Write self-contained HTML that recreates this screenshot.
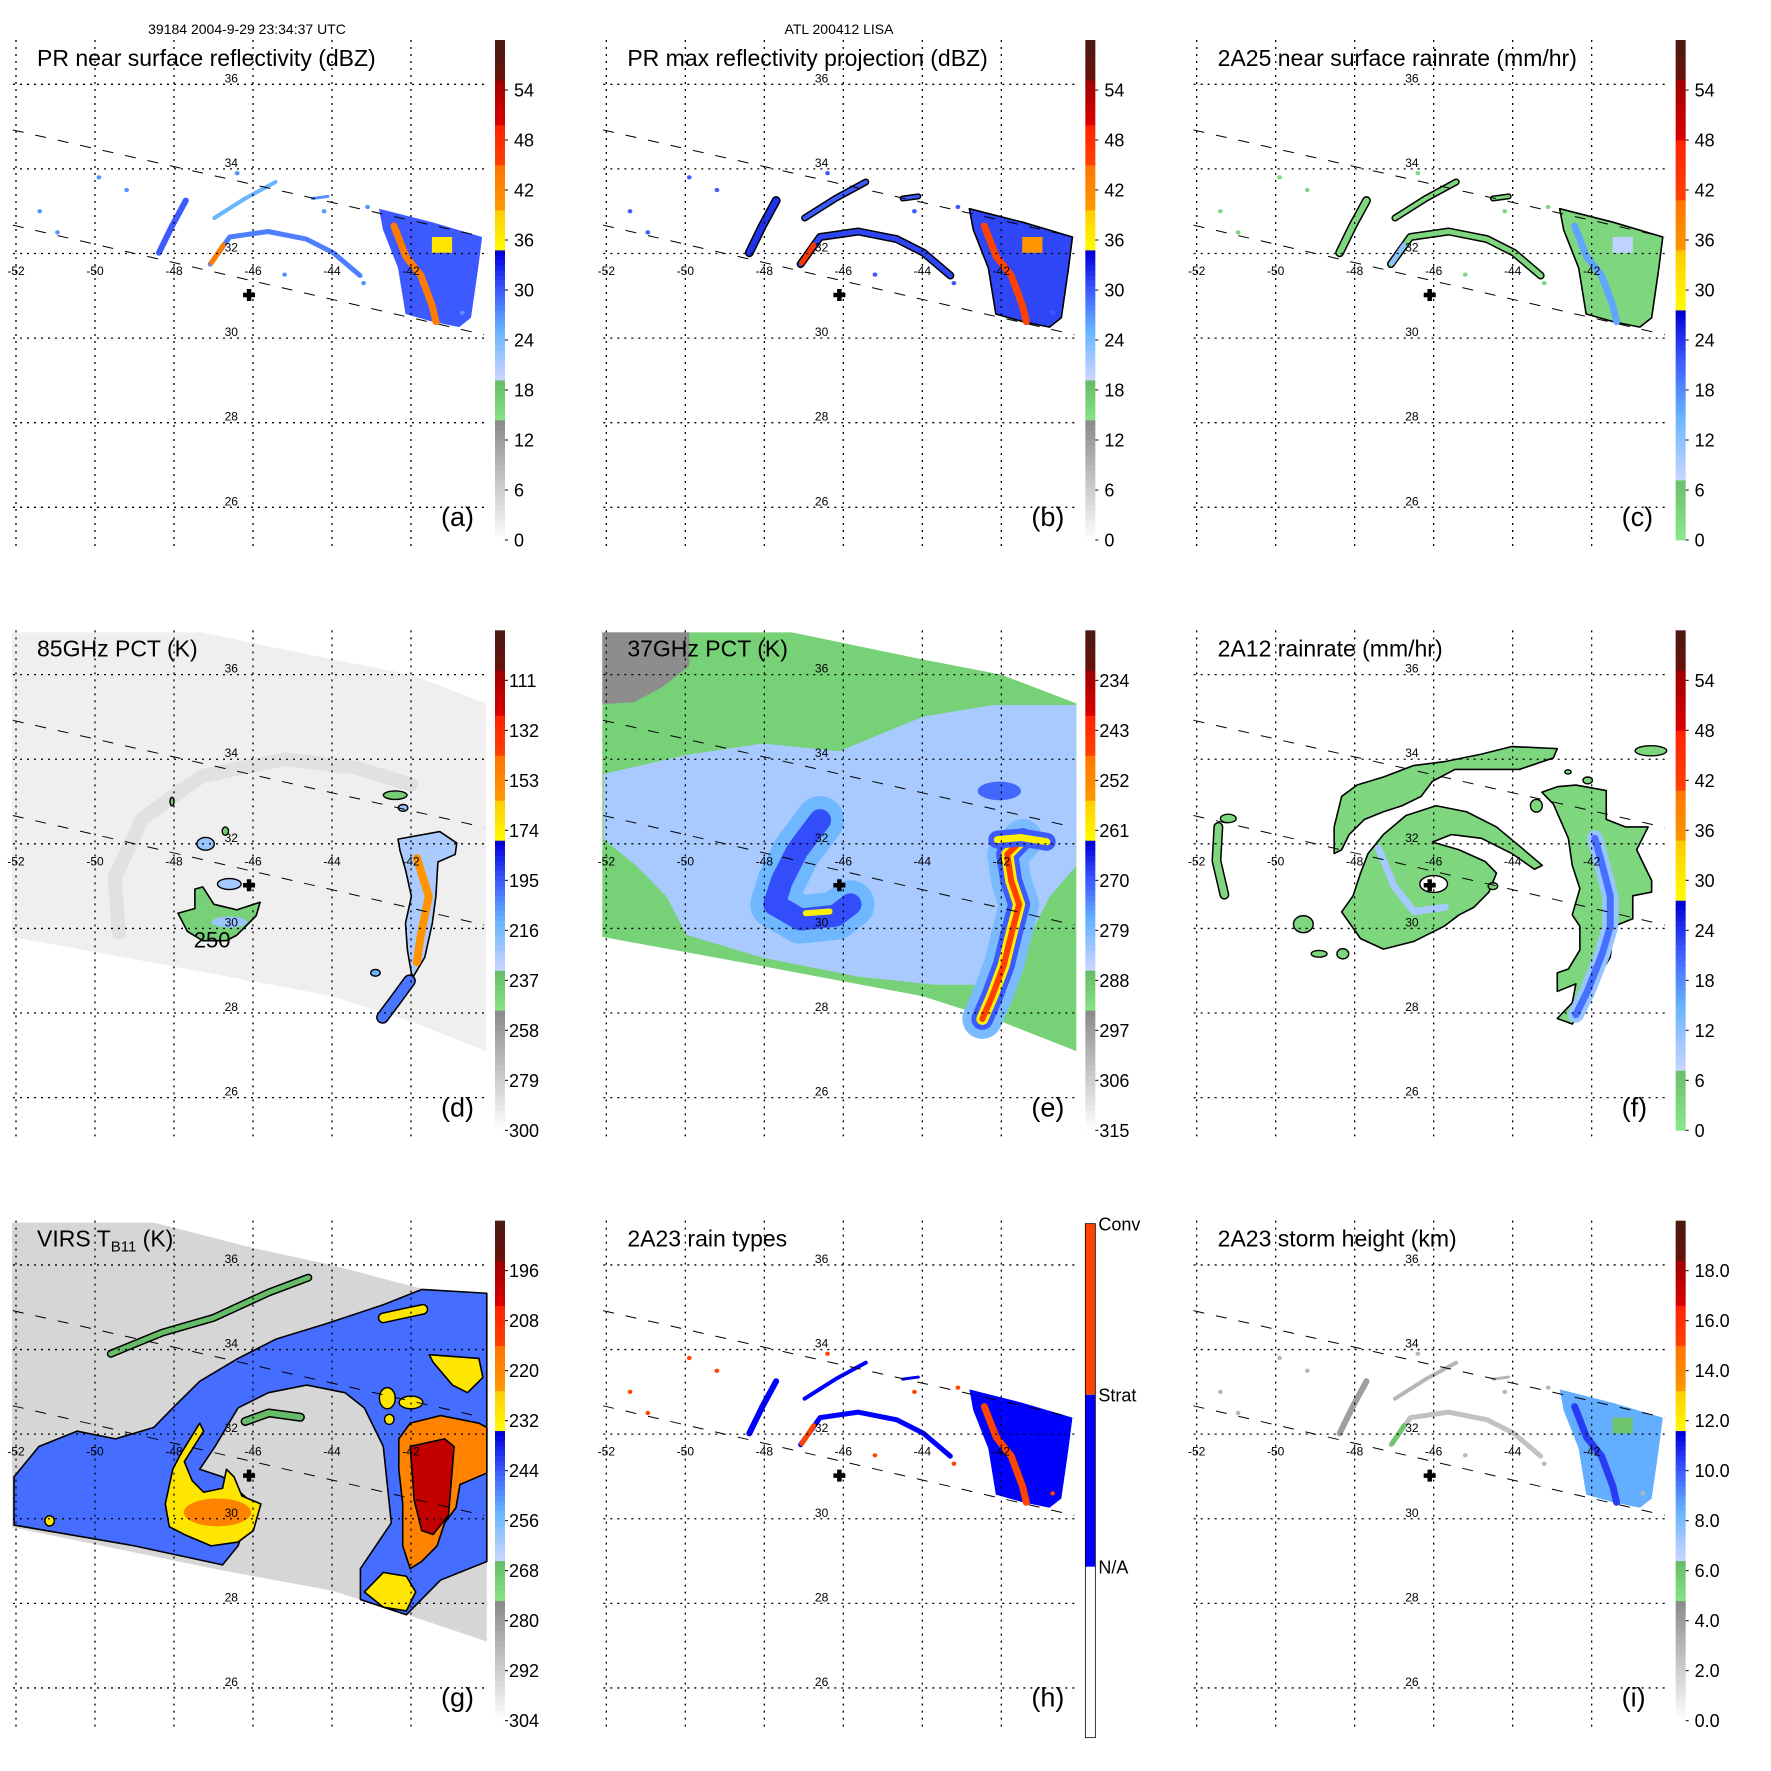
<!DOCTYPE html>
<html><head><meta charset="utf-8"><title>TRMM LISA 2004-9-29</title>
<style>html,body{margin:0;padding:0;background:#fff}svg{display:block}text{font-family:"Liberation Sans",Arial,sans-serif}</style>
</head><body>
<svg id="fig" xmlns="http://www.w3.org/2000/svg" width="1771" height="1771" viewBox="0 0 1771 1771">
<rect x="0" y="0" width="1771" height="1771" fill="#fff"/>
<text x="247" y="34" font-size="14" text-anchor="middle">39184 2004-9-29 23:34:37 UTC</text>
<text x="839" y="34" font-size="14" text-anchor="middle">ATL 200412 LISA</text>
</svg>
<script>
// ---------- tick label arrays ----------
const aTicks = [0,6,12,18,24,30,36,42,48,54];
const bTicks = [0,6,12,18,24,30,36,42,48,54];
const cTicks = [0,6,12,18,24,30,36,42,48,54];
const dTicks = [300,279,258,237,216,195,174,153,132,111];
const eTicks = [315,306,297,288,279,270,261,252,243,234];
const fTicks = [0,6,12,18,24,30,36,42,48,54];
const gTicks = [304,292,280,268,256,244,232,220,208,196];
const iTicks = [0,2,4,6,8,10,12,14,16,18];
const hTicks = ['N/A','Strat','Conv'];
const lonTicks = [-52,-50,-48,-46,-44,-42];
const latTicks = [36,34,32,30,28,26];

// ---------- swath edges (lon,lat) ----------
const prSwathTop = [[-52.08,34.92],[-40.15,32.39]];
const prSwathBottom = [[-52.08,32.67],[-40.15,30.08]];
const stormCenter = [-46.1,31.02];

// ---------- PR features shared by a,b,c,h,i ----------
const prWestArc = [[-48.38,32.02],[-48.05,32.65],[-47.7,33.25]];
const prMainArc = [[-47.08,31.75],[-46.59,32.39],[-45.62,32.52],[-44.65,32.34],[-43.97,32.02],[-43.29,31.48]];
const prUpperBand = [[-46.98,32.84],[-46.2,33.3],[-45.43,33.69]];
const prEastRegion = [[-42.81,33.06],[-41.46,32.74],[-40.2,32.39],[-40.3,31.66],[-40.48,30.48],[-40.78,30.26],[-41.46,30.39],[-42.14,30.57],[-42.33,31.66],[-42.71,32.56]];
const prEastCore = [[-42.43,32.65],[-42.13,31.93],[-41.75,31.48],[-41.46,30.76],[-41.37,30.39]];
const prEastCell = [[-41.47,32.39],[-40.96,32.39],[-40.96,32.02],[-41.47,32.02]];
const prWestCore = [[-47.05,31.78],[-46.75,32.2]];
const prNorthStreak = [[-44.5,33.3],[-44.1,33.35]];
const prDots = [[-51.4,33.0],[-50.95,32.5],[-49.9,33.8],[-49.2,33.5],[-46.4,33.9],[-44.2,33.0],[-43.1,33.1],[-45.2,31.5],[-43.2,31.3],[-40.7,30.6]];
// values order: westArc, mainArc, upperBand, eastRegion, eastCore, eastCell, westCore, northStreak, dots
const aValues = [30, 28, 25, 30, 44, 37, 44, 27, 27];
const bValues = [32, 31, 30, 31, 45, 40, 47, 30, 30];
const cValues = [3, 3, 3, 3, 16, 8, 12, 3, 3];
const hValues = [1, 1, 1, 1, 2, 1, 2, 1, 2];
const iValues = [4, 2.5, 3, 8.5, 10.5, 6, 6, 3, 3];

// ---------- TMI swath ----------
const tmiSwath = [[-52.1,37.0],[-47.3,37.0],[-44,36.36],[-42,36.0],[-40.1,35.32],[-40.1,27.1],[-42,27.8],[-44,28.4],[-48,29.1],[-52.1,29.8]];
// ---------- panel d (85 GHz PCT) ----------
const dSwathValue = 293;
const dSWBlob = [[-47.9,30.36],[-47.47,30.47],[-47.47,30.93],[-47.27,30.98],[-46.99,30.57],[-46.41,30.44],[-45.82,30.62],[-45.92,30.30],[-46.41,29.84],[-46.68,29.71],[-47.27,29.71],[-47.66,29.93]];
const dSWBlobValue = 242;
const dEastBand = [[-42.33,32.11],[-41.27,32.29],[-40.84,32.02],[-40.88,31.75],[-41.32,31.57],[-41.37,30.76],[-41.46,30.12],[-41.65,29.32],[-41.95,28.85],[-41.99,28.94],[-42.09,29.49],[-42.14,30.12],[-41.99,30.76],[-42.14,31.39],[-42.28,31.85]];
const dEastBandValue = 226;
const dEastCore = [[-41.85,31.66],[-41.55,30.76],[-41.75,29.85],[-41.85,29.2]];
const dEastCoreValue = 158;
const dSouthFrag = [[-42.72,27.9],[-42.4,28.3],[-42.04,28.76]];
const dSouthFragValue = 200;
const dBlobs = [[-42.4,33.15,0.3,0.1],[-42.2,32.85,0.12,0.08],[-47.2,32.0,0.22,0.15],[-46.6,31.05,0.3,0.13],[-46.7,32.3,0.08,0.1],[-48.05,33.0,0.05,0.1],[-42.9,28.95,0.12,0.08],[-46.6,30.15,0.45,0.13]];
const dBlobValues = [240,222,222,225,240,240,212,222];
const dRing = [[-49.4,29.9],[-49.5,31.2],[-48.8,32.6],[-47.3,33.6],[-45.2,34.0],[-43.4,33.8],[-42.0,33.4]];
const dRingValue = 280;

// ---------- panel e (37 GHz PCT) ----------
const eSwathValue = 290;
const eGray = [[-52.1,37.0],[-49.9,37.0],[-49.9,36.2],[-50.6,35.7],[-51.3,35.35],[-52.1,35.3]];
const eGrayValue = 294;
const eLavender = [[-52.07,33.65],[-49.98,34.10],[-48.05,34.37],[-46.11,34.19],[-43.97,35.01],[-42.23,35.28],[-40.1,35.28],[-40.1,31.48],[-40.78,30.75],[-41.27,29.85],[-42.23,28.67],[-43.69,28.67],[-45.62,28.86],[-48.05,29.31],[-49.98,29.85],[-50.47,30.75],[-51.24,31.48],[-52.07,32.11]];
const eLavenderValue = 283;
const eCPath = [[-46.59,32.56],[-47.17,31.84],[-47.56,31.12],[-47.75,30.57],[-47.08,30.21],[-46.2,30.30],[-45.82,30.57]];
const eCHaloValue = 278;
const eCValue = 269;
const eYellowBits = [[-46.95,30.36],[-46.35,30.4]];
const eYellowValue = 261;
const eNEBlob = [-42.05,33.25,0.55,0.22];
const eNEBlobValue = 271;
const eEastPath = [[-41.46,32.11],[-41.85,31.75],[-41.75,31.12],[-41.55,30.57],[-41.75,29.85],[-41.94,29.13],[-42.23,28.40],[-42.48,27.86]];
const eEastValues = [279, 270, 261, 247];
const eTopBar = [[-42.1,32.1],[-41.5,32.15],[-40.85,32.05]];
const eTopBarValues = [270, 261];

// ---------- panel f (2A12) ----------
const fOuterBand = [[-48.33,33.12],[-47.94,33.39],[-47.27,33.58],[-46.51,33.85],[-45.74,33.94],[-44.79,34.12],[-44.02,34.30],[-42.87,34.25],[-42.97,34.03],[-43.83,33.76],[-44.79,33.76],[-45.46,33.76],[-46.03,33.48],[-46.32,33.12],[-46.8,32.90],[-47.27,32.76],[-47.75,32.58],[-48.14,32.22],[-48.33,31.86],[-48.52,31.77],[-48.52,32.40]];
const fInnerSpiral = [[-48.33,30.39],[-48.04,30.77],[-47.85,31.31],[-47.66,31.77],[-47.27,32.22],[-46.7,32.67],[-45.94,32.90],[-45.17,32.76],[-44.41,32.40],[-43.83,31.95],[-43.25,31.49],[-43.45,31.40],[-44.02,31.77],[-44.79,32.13],[-45.55,32.22],[-46.03,32.04],[-45.36,31.86],[-44.69,31.58],[-44.41,31.31],[-44.6,30.86],[-44.98,30.50],[-45.36,30.32],[-45.74,30.05],[-46.51,29.69],[-47.27,29.51],[-47.85,29.76]];
const fEastBand = [[-43.26,33.22],[-42.87,33.35],[-42.40,33.39],[-41.63,33.26],[-41.63,32.58],[-41.15,32.40],[-40.57,32.40],[-40.86,31.86],[-40.48,31.13],[-40.48,30.86],[-40.96,30.77],[-40.96,30.23],[-41.44,30.05],[-41.53,29.32],[-41.82,28.87],[-42.20,28.15],[-42.49,27.74],[-42.87,27.87],[-42.49,28.24],[-42.40,28.69],[-42.87,28.51],[-42.87,28.95],[-42.59,29.04],[-42.30,29.49],[-42.30,30.05],[-42.49,30.32],[-42.30,30.94],[-42.49,31.49],[-42.59,32.13],[-42.97,32.94]];
const fRainValue = 3;
const fEye = [-46.0,31.05,0.35,0.2];
const fInnerStreak = [[-47.4,31.9],[-47.0,31.0],[-46.5,30.4],[-45.7,30.5]];
const fInnerStreakValue = 10;
const fEastCore = [[-41.92,32.13],[-41.73,31.49],[-41.53,30.77],[-41.53,30.05],[-41.73,29.41],[-42.11,28.51],[-42.40,27.96]];
const fEastCoreValues = [11, 20];
const fWestArc = [[-51.45,32.4],[-51.5,31.6],[-51.3,30.8]];
const fSmall = [[-51.2,32.6,0.2,0.1],[-49.3,30.1,0.25,0.2],[-48.9,29.4,0.2,0.08],[-48.3,29.4,0.15,0.12],[-42.6,33.7,0.08,0.05],[-42.1,33.5,0.12,0.08],[-40.5,34.2,0.4,0.12],[-43.4,32.9,0.15,0.15],[-44.5,31.0,0.12,0.08]];

// ---------- panel g (VIRS) ----------
const gSwath = [[-52.1,37.0],[-48.5,37.0],[-46,36.4],[-44,36.0],[-42,35.5],[-40.08,35.05],[-40.08,27.1],[-42,27.7],[-44,28.3],[-46.9,28.8],[-52.1,29.8]];
const gSwathValue = 294;
const gBlue = [[-52.05,30.99],[-51.42,31.71],[-50.45,32.07],[-49.48,31.89],[-48.51,32.16],[-48.03,32.62],[-47.35,33.25],[-46.38,33.79],[-45.41,34.25],[-44.15,34.61],[-42.70,35.06],[-41.73,35.42],[-40.08,35.33],[-40.08,28.99],[-41.25,28.55],[-42.12,27.73],[-43.28,28.09],[-43.28,28.82],[-42.50,29.90],[-42.70,31.71],[-43.18,32.62],[-43.67,32.98],[-44.64,33.16],[-45.61,32.98],[-46.38,32.62],[-46.96,31.71],[-47.35,31.17],[-46.77,30.99],[-45.99,30.35],[-46.38,29.36],[-46.77,28.91],[-49.0,29.36],[-52.05,29.85]];
const gBlueValue = 246;
const gFringe = [[-49.6,33.9],[-48.3,34.4],[-47.0,34.75],[-45.6,35.35],[-44.6,35.7]];
const gFringe2 = [[-46.2,32.3],[-45.6,32.5],[-44.8,32.4]];
const gFringeValue = 266;
const gYellowW = [[-48.22,30.35],[-48.03,31.17],[-47.83,31.53],[-47.35,32.26],[-47.25,32.07],[-47.74,31.35],[-47.54,30.90],[-47.25,30.63],[-46.77,30.72],[-46.67,31.17],[-46.48,30.99],[-46.28,30.54],[-45.80,30.35],[-45.99,29.72],[-46.38,29.45],[-47.06,29.36],[-47.74,29.63],[-48.12,29.81]];
const gYellowValue = 230;
const gOrangeW = [-46.9,30.15,0.85,0.33];
const gOrangeE = [[-42.31,31.89],[-42.02,32.26],[-41.25,32.44],[-40.28,32.26],[-40.08,32.16],[-40.08,31.08],[-40.76,30.81],[-40.86,30.26],[-41.15,29.90],[-41.34,29.36],[-41.73,28.99],[-42.02,28.82],[-42.21,29.36],[-42.21,30.35],[-42.31,31.17]];
const gOrangeValue = 218;
const gRedE = [[-42.02,31.71],[-41.15,31.89],[-40.91,31.71],[-41.05,30.08],[-41.44,29.63],[-41.73,29.72],[-41.92,30.44]];
const gRedValue = 200;
const gYellowNE = [[-41.54,33.88],[-40.28,33.79],[-40.18,33.34],[-40.57,32.98],[-40.95,33.16],[-41.44,33.70]];
const gYellowSE = [[-43.18,28.27],[-42.70,28.73],[-42.12,28.64],[-41.88,28.27],[-42.12,27.82],[-42.70,27.91]];
const gStripNE = [[-42.7,34.75],[-42.2,34.85],[-41.7,34.95]];
const gSmallYellow = [[-42.6,32.85,0.2,0.25],[-42.0,32.75,0.3,0.15],[-42.55,32.35,0.12,0.12],[-51.15,29.95,0.12,0.12]];

// ---------- colormaps (style) ----------
const CM_A = [[0,'#ffffff'],[0.24,'#8a8a8a'],[0.2401,'#86e486'],[0.32,'#66bb66'],[0.3201,'#ccd6ff'],[0.42,'#66b4ff'],[0.5,'#3c5aff'],[0.575,'#0000dc'],[0.5751,'#ffff00'],[0.66,'#ffcc00'],[0.6601,'#ff9900'],[0.745,'#ff7700'],[0.7451,'#ff4400'],[0.83,'#ff2200'],[0.8301,'#dd0000'],[0.915,'#a00000'],[0.9151,'#6a1008'],[1,'#4a1a14']];
const CM_C = [[0,'#8ce88c'],[0.117,'#6cc06c'],[0.1171,'#ccd6ff'],[0.25,'#66b4ff'],[0.36,'#3c5aff'],[0.457,'#0000d0'],[0.4571,'#ffff00'],[0.576,'#ffcc00'],[0.5761,'#ff9900'],[0.678,'#ff7700'],[0.6781,'#ff4400'],[0.798,'#ff2200'],[0.7981,'#dd0000'],[0.915,'#a00000'],[0.9151,'#6a1008'],[1,'#4a1a14']];
const CM_H = ['#ffffff','#0000ff','#ff4400'];

function hx(c){return [parseInt(c.slice(1,3),16),parseInt(c.slice(3,5),16),parseInt(c.slice(5,7),16)];}
function cmap(stops,f){
  f=Math.max(0,Math.min(1,f));
  for(let i=1;i<stops.length;i++){
    if(f<=stops[i][0]){
      const a=stops[i-1],b=stops[i];const t=(f-a[0])/((b[0]-a[0])||1);
      const ca=hx(a[1]),cb=hx(b[1]);
      return 'rgb('+ca.map((v,k)=>Math.round(v+(cb[k]-v)*t)).join(',')+')';
    }
  }
  return stops[stops.length-1][1];
}

// ---------- axis functions ----------
const X = lon => 16 + (lon + 52) * 39.5;
const Y = lat => 84.3 + (36 - lat) * 42.3;
const NS='http://www.w3.org/2000/svg';
const svg=document.getElementById('fig');
function mk(tag,attrs,parent){const e=document.createElementNS(NS,tag);for(const k in attrs)e.setAttribute(k,attrs[k]);parent.appendChild(e);return e;}
function ptsStr(pts){return pts.map(p=>X(p[0]).toFixed(1)+','+Y(p[1]).toFixed(1)).join(' ');}

function drawPoly(g,pts,color,outline,name){
  const e=mk('polygon',{points:ptsStr(pts),fill:color,stroke:outline?'#000':'none','stroke-width':outline?1.6:0,'stroke-linejoin':'round'},g);
  
  
  return e;
}
function drawLine(g,pts,w,color,outline,name){
  if(outline){
    const o=mk('polyline',{points:ptsStr(pts),fill:'none',stroke:'#000','stroke-width':w+3,'stroke-linecap':'round','stroke-linejoin':'round'},g);
    
    
  }
  const e=mk('polyline',{points:ptsStr(pts),fill:'none',stroke:color,'stroke-width':w,'stroke-linecap':'round','stroke-linejoin':'round'},g);
  
  
  return e;
}
function drawEll(g,d,color,outline,name){
  const e=mk('ellipse',{cx:X(d[0]),cy:Y(d[1]),rx:d[2]*39.5,ry:d[3]*42.3,fill:color,stroke:outline?'#000':'none','stroke-width':outline?1.4:0},g);
  
  
  return e;
}

const panels=[
 {id:'a',col:0,row:0,title:'PR near surface reflectivity (dBZ)',letter:'(a)',cm:CM_A,vb:0,vt:60,ticks:aTicks},
 {id:'b',col:1,row:0,title:'PR max reflectivity projection (dBZ)',letter:'(b)',cm:CM_A,vb:0,vt:60,ticks:bTicks},
 {id:'c',col:2,row:0,title:'2A25 near surface rainrate (mm/hr)',letter:'(c)',cm:CM_C,vb:0,vt:60,ticks:cTicks},
 {id:'d',col:0,row:1,title:'85GHz PCT (K)',letter:'(d)',cm:CM_A,vb:300,vt:90,ticks:dTicks},
 {id:'e',col:1,row:1,title:'37GHz PCT (K)',letter:'(e)',cm:CM_A,vb:315,vt:225,ticks:eTicks},
 {id:'f',col:2,row:1,title:'2A12 rainrate (mm/hr)',letter:'(f)',cm:CM_C,vb:0,vt:60,ticks:fTicks},
 {id:'g',col:0,row:2,title:'VIRS',letter:'(g)',cm:CM_A,vb:304,vt:184,ticks:gTicks},
 {id:'h',col:1,row:2,title:'2A23 rain types',letter:'(h)',cm:null,vb:0,vt:2,ticks:hTicks},
 {id:'i',col:2,row:2,title:'2A23 storm height (km)',letter:'(i)',cm:CM_A,vb:0,vt:20,ticks:iTicks}
];

function colorOf(p,v){
  if(p.id==='h') return CM_H[v];
  return cmap(p.cm,(v-p.vb)/(p.vt-p.vb));
}

function drawPR(g,p,vals){
  const ol = (p.id==='b'||p.id==='c');
  const c=v=>colorOf(p,v);
  drawPoly(g,prEastRegion,c(vals[3]),ol,'east-rain-region');
  drawLine(g,prWestArc,6,c(vals[0]),ol,'west-rainband');
  drawLine(g,prMainArc,5,c(vals[1]),ol,'main-rainband');
  drawLine(g,prUpperBand,4,c(vals[2]),ol,'upper-rainband');
  drawLine(g,prEastCore,7,c(vals[4]),false,'east-convective-core');
  drawPoly(g,prEastCell,c(vals[5]),false,'east-cell');
  drawLine(g,prWestCore,5,c(vals[6]),false,'west-convective-core');
  drawLine(g,prNorthStreak,3,c(vals[7]),ol,'north-streak');
  prDots.forEach(d=>{drawEll(g,[d[0],d[1],0.06,0.05],c(vals[8]),false,'rain-pixel');});
}

function drawD(g,p){
  const c=v=>colorOf(p,v);
  drawPoly(g,tmiSwath,c(dSwathValue),false,'tmi-swath');
  const r=drawLine(g,dRing,14,c(dRingValue),false,'scattering-ring');r.setAttribute('opacity','0.45');
  drawPoly(g,dSWBlob,c(dSWBlobValue),true,'southwest-eyewall');
  drawPoly(g,dEastBand,c(dEastBandValue),true,'east-rainband');
  drawLine(g,dEastCore,8,c(dEastCoreValue),false,'east-band-core');
  drawLine(g,dSouthFrag,10,c(dSouthFragValue),true,'south-fragment');
  dBlobs.forEach((b,i)=>drawEll(g,b,c(dBlobValues[i]),i<7,'ice-scattering-blob'));
  const t=mk('text',{x:X(-47.5),y:Y(29.55),'font-size':22},g);t.textContent='250';
  
  
}
function drawE(g,p){
  const c=v=>colorOf(p,v);
  drawPoly(g,tmiSwath,c(eSwathValue),false,'tmi-swath');
  drawPoly(g,eGray,c(eGrayValue),false,'warm-region');
  drawPoly(g,eLavender,c(eLavenderValue),false,'rain-region');
  drawLine(g,eCPath,48,c(eCHaloValue),false,'eyewall-halo');
  drawLine(g,eCPath,22,c(eCValue),false,'eyewall');
  drawLine(g,eYellowBits,6,c(eYellowValue),false,'eyewall-core');
  drawEll(g,eNEBlob,c(eNEBlobValue),false,'northeast-cell');
  const w=[40,22,12,6];
  eEastValues.forEach((v,i)=>drawLine(g,eEastPath,w[i],c(v),false,'east-rainband'));
  drawLine(g,eTopBar,18,c(eTopBarValues[0]),false,'east-band-head');
  drawLine(g,eTopBar,7,c(eTopBarValues[1]),false,'east-band-head-core');
}
function drawF(g,p){
  const c=v=>colorOf(p,v);
  drawPoly(g,fOuterBand,c(fRainValue),true,'outer-rainband');
  drawPoly(g,fInnerSpiral,c(fRainValue),true,'inner-spiral');
  drawPoly(g,fEastBand,c(fRainValue),true,'east-rainband');
  drawLine(g,fInnerStreak,7,c(fInnerStreakValue),false,'inner-heavy-rain');
  drawEll(g,fEye,'#ffffff',true,'eye');
  drawLine(g,fEastCore,16,c(fEastCoreValues[0]),false,'east-band-rain');
  drawLine(g,fEastCore,7,c(fEastCoreValues[1]),false,'east-band-core');
  drawLine(g,fWestArc,7,c(fRainValue),true,'west-arc');
  fSmall.forEach(b=>drawEll(g,b,c(fRainValue),true,'rain-cell'));
}
function drawG(g,p){
  const c=v=>colorOf(p,v);
  drawPoly(g,gSwath,c(gSwathValue),false,'virs-swath');
  drawPoly(g,gBlue,c(gBlueValue),true,'cold-cloud-shield');
  drawLine(g,gFringe,5,c(gFringeValue),true,'cloud-fringe');
  drawLine(g,gFringe2,6,c(gFringeValue),true,'inner-cloud-fringe');
  drawPoly(g,gYellowW,c(gYellowValue),true,'west-cold-top');
  drawEll(g,gOrangeW,c(gOrangeValue),false,'west-cold-core');
  drawPoly(g,gOrangeE,c(gOrangeValue),true,'east-cold-top');
  drawPoly(g,gRedE,c(gRedValue),true,'east-cold-core');
  drawPoly(g,gYellowNE,c(gYellowValue),true,'northeast-cold-top');
  drawPoly(g,gYellowSE,c(gYellowValue),true,'southeast-cold-top');
  drawLine(g,gStripNE,8,c(gYellowValue),true,'northeast-strip');
  gSmallYellow.forEach(b=>drawEll(g,b,c(gYellowValue),true,'cold-cell'));
}

panels.forEach(p=>{
  const g=mk('g',{transform:'translate('+(p.col*590.33).toFixed(2)+','+(p.row*590.33).toFixed(2)+')'},svg);
  
  
  if(p.id==='a') drawPR(g,p,aValues);
  if(p.id==='b') drawPR(g,p,bValues);
  if(p.id==='c') drawPR(g,p,cValues);
  if(p.id==='h') drawPR(g,p,hValues);
  if(p.id==='i') drawPR(g,p,iValues);
  if(p.id==='d') drawD(g,p);
  if(p.id==='e') drawE(g,p);
  if(p.id==='f') drawF(g,p);
  if(p.id==='g') drawG(g,p);
  lonTicks.forEach(lon=>{
    const l=mk('line',{x1:X(lon),x2:X(lon),y1:40,y2:548,stroke:'#000','stroke-width':1.3,'stroke-dasharray':'2,5'},g);
    
    
    const t=mk('text',{x:X(lon),y:275,'font-size':12,'text-anchor':'middle'},g);t.textContent=String(lon);
    
    
  });
  latTicks.forEach(lat=>{
    const l=mk('line',{x1:13,x2:487,y1:Y(lat),y2:Y(lat),stroke:'#000','stroke-width':1.3,'stroke-dasharray':'2,5'},g);
    
    
    const t=mk('text',{x:X(-46.55),y:Y(lat)-2,'font-size':12,'text-anchor':'middle'},g);t.textContent=String(lat);
    
    
  });
  [prSwathTop,prSwathBottom].forEach(s=>{
    const l=mk('line',{x1:X(s[0][0]),y1:Y(s[0][1]),x2:X(s[1][0]),y2:Y(s[1][1]),stroke:'#000','stroke-width':1,'stroke-dasharray':'11,12'},g);
    
    
  });
  const cx=X(stormCenter[0]),cy=Y(stormCenter[1]);
  const cr=mk('path',{d:'M'+(cx-6)+' '+cy+'H'+(cx+6)+'M'+cx+' '+(cy-6)+'V'+(cy+6),stroke:'#000','stroke-width':4.5,fill:'none'},g);
  
  
  const cb=mk('g',{},g);
  
  
  if(p.id==='h'){
    const bands=[[386,557,0],[214,386,1],[43,214,2]];
    bands.forEach((b,i)=>{
      const r=mk('rect',{x:495,y:b[0],width:10,height:b[1]-b[0],fill:CM_H[b[2]]},cb);
      
      
      const t=mk('text',{x:508,y:b[0]+7,'font-size':18},cb);t.textContent=hTicks[i];
      
      
    });
    const o=mk('rect',{x:495,y:43,width:10,height:514,fill:'none',stroke:'#000','stroke-width':0.8},cb);
    
    
  } else {
    for(let k=0;k<100;k++){
      const f=(k+0.5)/100;
      const r=mk('rect',{x:495,y:(540-(k+1)*5).toFixed(1),width:10,height:5.4,fill:cmap(p.cm,f)},cb);
      
      
    }
    p.ticks.forEach(v=>{
      const y=540-(v-p.vb)/(p.vt-p.vb)*500;
      const tk=mk('line',{x1:505,x2:508,y1:y,y2:y,stroke:'#000','stroke-width':1},cb);
      
      
      const t=mk('text',{x:p.id==='i'?514:(v>=100?509:514),y:y+6.5,'font-size':18},cb);
      t.textContent=p.id==='i'?v.toFixed(1):String(v);
      
      
    });
  }
  const t=mk('text',{x:37,y:66,'font-size':23},g);
  if(p.id==='g'){
    t.textContent='VIRS T';
    const s=mk('tspan',{'font-size':15,dy:5},t);s.textContent='B11';
    const s2=mk('tspan',{dy:-5},t);s2.textContent=' (K)';
  } else t.textContent=p.title;
  
  
  const lt=mk('text',{x:441,y:526,'font-size':27},g);lt.textContent=p.letter;
  
  
});
</script>
</body></html>
